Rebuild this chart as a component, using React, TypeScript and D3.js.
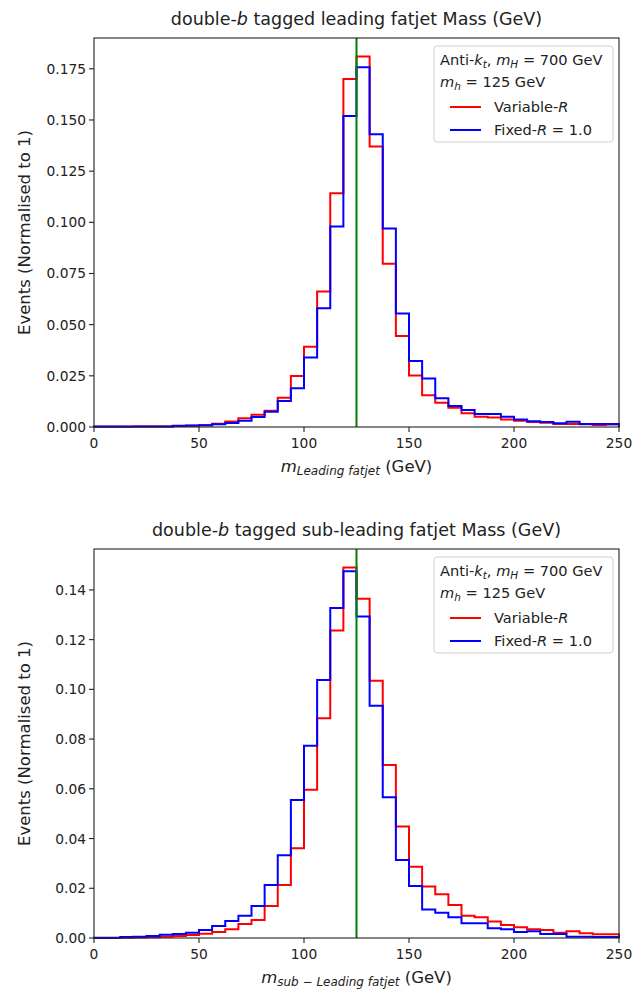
import React from "react";
import * as d3 from "d3";

const binEdges: number[] = d3.range(0, 250.001, 6.25);
const xTicks = [0, 50, 100, 150, 200, 250];
const topYTicks = [0, 0.025, 0.05, 0.075, 0.1, 0.125, 0.15, 0.175];
const botYTicks = [0, 0.02, 0.04, 0.06, 0.08, 0.1, 0.12, 0.14];
const higgsMass = 125;

const topVariableR = [
  0.0001, 0.0001, 0.0001, 0.0002, 0.0002, 0.0003, 0.0005, 0.0006, 0.0009, 0.0016,
  0.0027, 0.0043, 0.006, 0.008, 0.0143, 0.0249, 0.0392, 0.0662, 0.1142, 0.17,
  0.181, 0.137, 0.0798, 0.0444, 0.0252, 0.0155, 0.0119, 0.0094, 0.0067, 0.005,
  0.0046, 0.0037, 0.0031, 0.0024, 0.0021, 0.0015, 0.0015, 0.0013, 0.001, 0.0012,
];
const topFixedR = [
  0.0002, 0.0002, 0.0002, 0.0002, 0.0003, 0.0003, 0.0006, 0.0007, 0.0009, 0.0013,
  0.002, 0.0031, 0.0049, 0.0075, 0.0127, 0.0189, 0.034, 0.058, 0.098, 0.152,
  0.1757, 0.143, 0.097, 0.0554, 0.0322, 0.0237, 0.014, 0.0102, 0.0083, 0.0063,
  0.0063, 0.005, 0.0037, 0.0028, 0.0024, 0.0018, 0.0026, 0.0015, 0.0015, 0.0015,
];
const botVariableR = [
  0.0, 0.0, 0.0001, 0.0002, 0.0003, 0.0005, 0.0008, 0.0012, 0.0017, 0.0024,
  0.0035, 0.0056, 0.0072, 0.0129, 0.0213, 0.0361, 0.0596, 0.0884, 0.1237, 0.149,
  0.1364, 0.1035, 0.0696, 0.0448, 0.0287, 0.0207, 0.0176, 0.0133, 0.0089, 0.0083,
  0.0066, 0.0052, 0.0043, 0.0035, 0.0032, 0.0021, 0.0027, 0.0019, 0.0015, 0.0015,
];
const botFixedR = [
  0.0001, 0.0001, 0.0004, 0.0005, 0.0008, 0.0013, 0.0016, 0.0021, 0.0032, 0.0048,
  0.0068, 0.0089, 0.0129, 0.0213, 0.0333, 0.0555, 0.0773, 0.1038, 0.1327, 0.1475,
  0.1293, 0.0934, 0.0566, 0.0314, 0.0209, 0.0115, 0.0102, 0.0083, 0.0059, 0.0059,
  0.0039, 0.0035, 0.0024, 0.0027, 0.0016, 0.0016, 0.0005, 0.0005, 0.0004, 0.0004,
];

const FONT = "DejaVu Sans";

type PanelProps = {
  top: number;
  red: number[];
  blue: number[];
  yTicks: number[];
  yFmt: string;
  title: React.ReactNode;
  xlabel: React.ReactNode;
};

function stepPath(vals: number[], x: d3.ScaleLinear<number, number>, y: d3.ScaleLinear<number, number>) {
  const pts: [number, number][] = [[binEdges[0], 0]];
  vals.forEach((v, i) => {
    pts.push([binEdges[i], v]);
    pts.push([binEdges[i + 1], v]);
  });
  pts.push([binEdges[binEdges.length - 1], 0]);
  const line = d3
    .line<[number, number]>()
    .x((d) => x(d[0]))
    .y((d) => y(d[1]));
  return line(pts) || "";
}

function Panel({ top, red, blue, yTicks, yFmt, title, xlabel }: PanelProps) {
  const left = 94;
  const right = 619;
  const plotTop = top;
  const plotBottom = top + 389;
  const x = d3.scaleLinear().domain([0, 250]).range([left, right]);
  const ymax = Math.max(d3.max(red) || 0, d3.max(blue) || 0) * 1.05;
  const y = d3.scaleLinear().domain([0, ymax]).range([plotBottom, plotTop]);
  const fmt = d3.format(yFmt);
  const lx = 434;
  const ly = plotTop + 8;
  const lf = 14.6;
  const sf = 10.5;
  return (
    <g fontFamily={FONT}>
      <text x={(left + right) / 2} y={plotTop - 13} textAnchor="middle" fontSize={17.5} fill="#222">
        {title}
      </text>
      <path d={stepPath(red, x, y)} fill="none" stroke="#ff0000" strokeWidth={2} />
      <path d={stepPath(blue, x, y)} fill="none" stroke="#0000ff" strokeWidth={2} />
      <line x1={x(higgsMass)} x2={x(higgsMass)} y1={plotTop} y2={plotBottom} stroke="#008000" strokeWidth={2} />
      <rect x={left} y={plotTop} width={right - left} height={plotBottom - plotTop} fill="none" stroke="#222" strokeWidth={1.1} />
      {xTicks.map((t) => (
        <g key={"x" + t}>
          <line x1={x(t)} x2={x(t)} y1={plotBottom} y2={plotBottom + 5} stroke="#222" strokeWidth={1.1} />
          <text x={x(t)} y={plotBottom + 21} textAnchor="middle" fontSize={13.8} fill="#222">
            {t}
          </text>
        </g>
      ))}
      {yTicks.map((t) => (
        <g key={"y" + t}>
          <line x1={left - 5} x2={left} y1={y(t)} y2={y(t)} stroke="#222" strokeWidth={1.1} />
          <text x={left - 8} y={y(t) + 5} textAnchor="end" fontSize={13.8} fill="#222">
            {fmt(t)}
          </text>
        </g>
      ))}
      <text
        transform={`translate(30,${(plotTop + plotBottom) / 2}) rotate(-90)`}
        textAnchor="middle"
        fontSize={16.5}
        fill="#222"
      >
        Events (Normalised to 1)
      </text>
      <text x={(left + right) / 2} y={plotBottom + 45} textAnchor="middle" fontSize={16.5} fill="#222">
        {xlabel}
      </text>
      <g>
        <rect x={lx} y={ly} width={179} height={96} rx={3} fill="#ffffff" fillOpacity={0.8} stroke="#d0d0d0" strokeWidth={1} />
        <text x={lx + 6} y={ly + 19} fontSize={lf} fill="#222">
          Anti-<tspan fontStyle="italic">k</tspan>
          <tspan fontStyle="italic" fontSize={sf} dy={3}>t</tspan>
          <tspan dy={-3}>, </tspan>
          <tspan fontStyle="italic">m</tspan>
          <tspan fontStyle="italic" fontSize={sf} dy={3}>H</tspan>
          <tspan dy={-3}> = 700 GeV</tspan>
        </text>
        <text x={lx + 6} y={ly + 41} fontSize={lf} fill="#222">
          <tspan fontStyle="italic">m</tspan>
          <tspan fontStyle="italic" fontSize={sf} dy={3}>h</tspan>
          <tspan dy={-3}> = 125 GeV</tspan>
        </text>
        <line x1={lx + 16} x2={lx + 47} y1={ly + 61} y2={ly + 61} stroke="#ff0000" strokeWidth={2} />
        <text x={lx + 60} y={ly + 66} fontSize={lf} fill="#222">
          Variable-<tspan fontStyle="italic">R</tspan>
        </text>
        <line x1={lx + 16} x2={lx + 47} y1={ly + 84} y2={ly + 84} stroke="#0000ff" strokeWidth={2} />
        <text x={lx + 60} y={ly + 89} fontSize={lf} fill="#222">
          Fixed-<tspan fontStyle="italic">R</tspan> = 1.0
        </text>
      </g>
    </g>
  );
}

export default function App() {
  return (
    <svg
      width={644}
      height={996}
      style={{ position: "absolute", left: 0, top: 0, background: "#fff" }}
    >
      <rect width={644} height={996} fill="#fff" />
      <Panel
        top={38}
        red={topVariableR}
        blue={topFixedR}
        yTicks={topYTicks}
        yFmt=".3f"
        title={
          <>
            double-<tspan fontStyle="italic">b</tspan> tagged leading fatjet Mass (GeV)
          </>
        }
        xlabel={
          <>
            <tspan fontStyle="italic">m</tspan>
            <tspan fontStyle="italic" fontSize={12} dy={3}>Leading fatjet</tspan>
            <tspan dy={-3}> (GeV)</tspan>
          </>
        }
      />
      <Panel
        top={549}
        red={botVariableR}
        blue={botFixedR}
        yTicks={botYTicks}
        yFmt=".2f"
        title={
          <>
            double-<tspan fontStyle="italic">b</tspan> tagged sub-leading fatjet Mass (GeV)
          </>
        }
        xlabel={
          <>
            <tspan fontStyle="italic">m</tspan>
            <tspan fontStyle="italic" fontSize={12} dy={3}>sub − Leading fatjet</tspan>
            <tspan dy={-3}> (GeV)</tspan>
          </>
        }
      />
    </svg>
  );
}
